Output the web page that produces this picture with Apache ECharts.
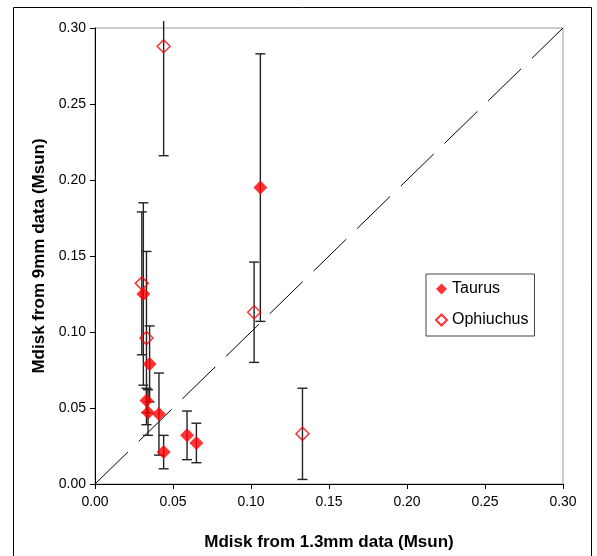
<!DOCTYPE html>
<html>
<head>
<meta charset="utf-8">
<style>
  html, body { margin: 0; padding: 0; background: #fff; }
  #chart { width: 597px; height: 556px; }
</style>
<script src="https://cdn.jsdelivr.net/npm/echarts@6/dist/echarts.min.js"></script>
</head>
<body>
<div id="chart"></div>
<script>
// Disk masses (Msun): 1.3mm estimate on x, 9mm estimate on y, with 1-sigma errors on y
const taurusX   = [0.106, 0.031, 0.035, 0.033, 0.034, 0.041, 0.044, 0.059, 0.065];
const taurusY   = [0.195, 0.125, 0.079, 0.055, 0.047, 0.046, 0.021, 0.032, 0.027];
const taurusErr = [0.088, 0.060, 0.025, 0.008, 0.015, 0.027, 0.011, 0.016, 0.013];

const ophX   = [0.044, 0.030, 0.033, 0.102, 0.133];
const ophY   = [0.288, 0.132, 0.096, 0.113, 0.033];
const ophErr = [0.072, 0.047, 0.057, 0.033, 0.030];

const axisTicks = [0.00, 0.05, 0.10, 0.15, 0.20, 0.25, 0.30];
const AX_MIN = axisTicks[0];
const AX_MAX = axisTicks[axisTicks.length - 1];
const AX_STEP = axisTicks[1] - axisTicks[0];

const FONT = '"Liberation Sans", Arial, sans-serif';

const pts = (xs, ys) => xs.map((x, i) => [x, ys[i]]);
const bars = (xs, ys, es) => xs.map((x, i) => [x, ys[i] - es[i], ys[i] + es[i]]);
const errorBars = bars(taurusX, taurusY, taurusErr).concat(bars(ophX, ophY, ophErr));

function renderErrorBar(params, api) {
  const x = api.value(0), lo = api.value(1), hi = api.value(2);
  const over = hi > AX_MAX;
  const pLo = api.coord([x, lo]);
  const pHi = api.coord([x, over ? AX_MAX : hi]);
  if (over) pHi[1] -= 7; // bar runs just past the top edge, uncapped
  const cap = 5;
  const style = { stroke: '#222', lineWidth: 1.4 };
  const children = [
    { type: 'line', shape: { x1: pLo[0], y1: pLo[1], x2: pHi[0], y2: pHi[1] }, style },
    { type: 'line', shape: { x1: pLo[0] - cap, y1: pLo[1], x2: pLo[0] + cap, y2: pLo[1] }, style }
  ];
  if (!over) {
    children.push({ type: 'line', shape: { x1: pHi[0] - cap, y1: pHi[1], x2: pHi[0] + cap, y2: pHi[1] }, style });
  }
  return { type: 'group', children };
}

const tickLabel = margin => ({
  fontFamily: FONT, fontSize: 14, color: '#000', margin,
  formatter: v => v.toFixed(2)
});

const valueAxis = (name, gap, margin) => ({
  type: 'value',
  min: AX_MIN,
  max: AX_MAX,
  interval: AX_STEP,
  name,
  nameLocation: 'middle',
  nameGap: gap,
  nameTextStyle: { fontFamily: FONT, fontSize: 17, fontWeight: 'bold', color: '#000' },
  axisLine: { show: true, onZero: false, lineStyle: { color: '#000', width: 1 } },
  axisTick: { show: true, inside: false, length: 5, lineStyle: { color: '#000' } },
  axisLabel: tickLabel(margin),
  splitLine: { show: false }
});

const chart = echarts.init(document.getElementById('chart'), null, { renderer: 'canvas' });

chart.setOption({
  animation: false,
  backgroundColor: '#fff',
  grid: {
    left: 95, top: 28, width: 468, height: 458,
    show: true, borderColor: '#999', borderWidth: 1, backgroundColor: 'transparent'
  },
  xAxis: valueAxis('Mdisk from 1.3mm data (Msun)', 50, 11),
  yAxis: valueAxis('Mdisk from 9mm data (Msun)', 47, 9),
  legend: {
    data: ['Taurus', 'Ophiuchus'],
    orient: 'vertical',
    left: 426, top: 274,
    padding: [7, 6, 8, 9],
    itemGap: 15,
    itemWidth: 11, itemHeight: 11,
    borderColor: '#444', borderWidth: 1,
    backgroundColor: '#fff',
    textStyle: { fontFamily: FONT, fontSize: 16, color: '#000' }
  },
  graphic: [{
    type: 'rect',
    silent: true,
    shape: { x: 13.5, y: 7.5, width: 578, height: 560 },
    style: { fill: 'none', stroke: '#000', lineWidth: 1 }
  }],
  series: [
    {
      name: 'one-to-one',
      type: 'line',
      data: [[AX_MIN, AX_MIN], [AX_MAX, AX_MAX]],
      symbol: 'none',
      silent: true,
      lineStyle: { color: '#000', width: 1, type: [46, 15] },
      z: 1
    },
    {
      name: 'errors',
      type: 'custom',
      data: errorBars,
      renderItem: renderErrorBar,
      clip: false,
      silent: true,
      z: 2
    },
    {
      name: 'Taurus',
      type: 'scatter',
      data: pts(taurusX, taurusY),
      symbol: 'diamond',
      symbolSize: 14,
      itemStyle: { color: '#ff0000' },
      z: 3
    },
    {
      name: 'Ophiuchus',
      type: 'scatter',
      data: pts(ophX, ophY),
      symbol: 'diamond',
      symbolSize: 13,
      itemStyle: { color: 'rgba(255,255,255,0)', borderColor: '#ff0000', borderWidth: 1.5 },
      z: 3
    }
  ]
});
</script>
</body>
</html>
